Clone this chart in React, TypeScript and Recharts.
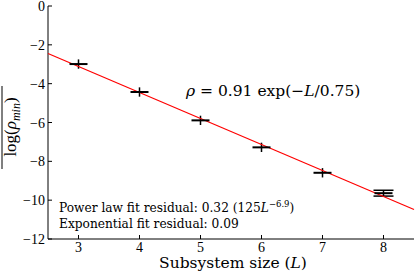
import { ComposedChart, Scatter, XAxis, YAxis, ErrorBar, Customized } from "recharts"

const FONT = "Liberation Serif, serif"
const WIDE = "DejaVu Serif, serif"

// measured points
const sizes = [3, 4, 5, 6, 7, 8]
const logRhoMin = [-2.99, -4.43, -5.89, -7.28, -8.59, -9.64]
const errs = [0.24, 0.24, 0.24, 0.24, 0.24, 0.15]

// fit line endpoints
const fitL = [2.5, 8.5]
const fitLogRho = [-2.45, -10.48]

const xTicks = [3, 4, 5, 6, 7, 8]
const yTicks = [0, -2, -4, -6, -8, -10, -12]

const points = sizes.map((x, i) => ({ x, y: logRhoMin[i], err: errs[i] }))
const mainPoints = points.slice(0, 5)
const lastPoint = points.slice(5)
const fitData = fitL.map((x, i) => ({ x, y: fitLogRho[i] }))

const fmt = (v: number) => (v < 0 ? "\u2212" + Math.abs(v) : String(v))
const serif = { fontFamily: FONT }
const wide = { fontFamily: WIDE }

const Dash = (props: any) => {
  const { cx, cy } = props
  return <line x1={cx - 9} x2={cx + 9} y1={cy} y2={cy} stroke="#000" strokeWidth={2} />
}

const BottomTick = (props: any) => {
  const { x, y, payload } = props
  return (
    <g>
      <line x1={x} x2={x} y1={y} y2={y - 4} stroke="#000" />
      <text x={x} y={y + 12.5} textAnchor="middle" fontSize={14} style={serif} fill="#000">
        {fmt(payload.value)}
      </text>
    </g>
  )
}

const LeftTick = (props: any) => {
  const { x, y, payload } = props
  return (
    <g>
      <line x1={x} x2={x + 4} y1={y} y2={y} stroke="#000" />
      <text x={x - 3} y={y + 5} textAnchor="end" fontSize={14} style={serif} fill="#000">
        {fmt(payload.value)}
      </text>
    </g>
  )
}

const TopTick = (props: any) => {
  const { x, y } = props
  return <line x1={x} x2={x} y1={y} y2={y + 4} stroke="#000" />
}

const RightTick = (props: any) => {
  const { x, y } = props
  return <line x1={x} x2={x - 4} y1={y} y2={y} stroke="#000" />
}

const Texts = () => (
  <g fill="#000">
    <text x={186} y={96} fontSize={15.5} style={wide}>
      <tspan fontStyle="italic">ρ</tspan> = 0.91 exp(−<tspan fontStyle="italic">L</tspan>/0.75)
    </text>
    <text x={59} y={212} fontSize={12.2} style={wide}>
      Power law fit residual: 0.32  (125<tspan fontStyle="italic">L</tspan>
      <tspan fontSize={8.5} dy={-5}>−6.9</tspan>
      <tspan dy={5}>)</tspan>
    </text>
    <text x={59} y={228} fontSize={12.2} style={wide}>
      Exponential fit residual: 0.09
    </text>
    <text x={233} y={268} fontSize={15.5} textAnchor="middle" style={wide}>
      Subsystem size (<tspan fontStyle="italic">L</tspan>)
    </text>
    <g transform="translate(16,127) rotate(-90)">
      <line x1={-42} x2={41} y1={-14} y2={-14} stroke="#000" strokeWidth={1} />
      <text x={0} y={0} textAnchor="middle" fontSize={17} style={serif}>
        log(<tspan fontStyle="italic">ρ</tspan>
        <tspan fontStyle="italic" fontSize={12} dy={4}>min</tspan>
        <tspan dy={-4}>)</tspan>
      </text>
    </g>
  </g>
)

export default function App() {
  return (
    <div style={{ position: "absolute", left: 0, top: 0, background: "#fff", fontFamily: FONT }}>
      <ComposedChart width={415} height={272} margin={{ top: 6, right: 1, left: 0, bottom: 0 }}>
        <XAxis
          xAxisId="b"
          dataKey="x"
          type="number"
          domain={[2.5, 8.5]}
          ticks={xTicks}
          interval={0}
          height={33}
          tickSize={0}
          tickMargin={0}
          tick={<BottomTick />}
          axisLine={{ stroke: "#000" }}
        />
        <XAxis
          xAxisId="t"
          orientation="top"
          dataKey="x"
          type="number"
          domain={[2.5, 8.5]}
          ticks={xTicks}
          interval={0}
          height={0}
          tickSize={0}
          tickMargin={0}
          tick={<TopTick />}
          axisLine={{ stroke: "#000" }}
        />
        <YAxis
          yAxisId="l"
          dataKey="y"
          type="number"
          domain={[-12, 0]}
          ticks={yTicks}
          interval={0}
          width={48}
          tickSize={0}
          tickMargin={0}
          tick={<LeftTick />}
          axisLine={{ stroke: "#000" }}
        />
        <YAxis
          yAxisId="r"
          orientation="right"
          dataKey="y"
          type="number"
          domain={[-12, 0]}
          ticks={yTicks}
          interval={0}
          width={0}
          tickSize={0}
          tickMargin={0}
          tick={<RightTick />}
          axisLine={{ stroke: "#000" }}
        />
        <Scatter
          xAxisId="b"
          yAxisId="l"
          data={fitData}
          dataKey="y"
          line={{ stroke: "#ff0000", strokeWidth: 1.2 }}
          shape={() => <g />}
          isAnimationActive={false}
        />
        <Scatter xAxisId="b" yAxisId="l" data={mainPoints} dataKey="y" shape={<Dash />} isAnimationActive={false}>
          <ErrorBar dataKey="err" direction="y" width={0} stroke="#000" strokeWidth={1.5} />
        </Scatter>
        <Scatter xAxisId="b" yAxisId="l" data={lastPoint} dataKey="y" shape={<Dash />} isAnimationActive={false}>
          <ErrorBar dataKey="err" direction="y" width={10} stroke="#000" strokeWidth={1.5} />
        </Scatter>
        <Customized component={<Texts />} />
      </ComposedChart>
    </div>
  )
}
